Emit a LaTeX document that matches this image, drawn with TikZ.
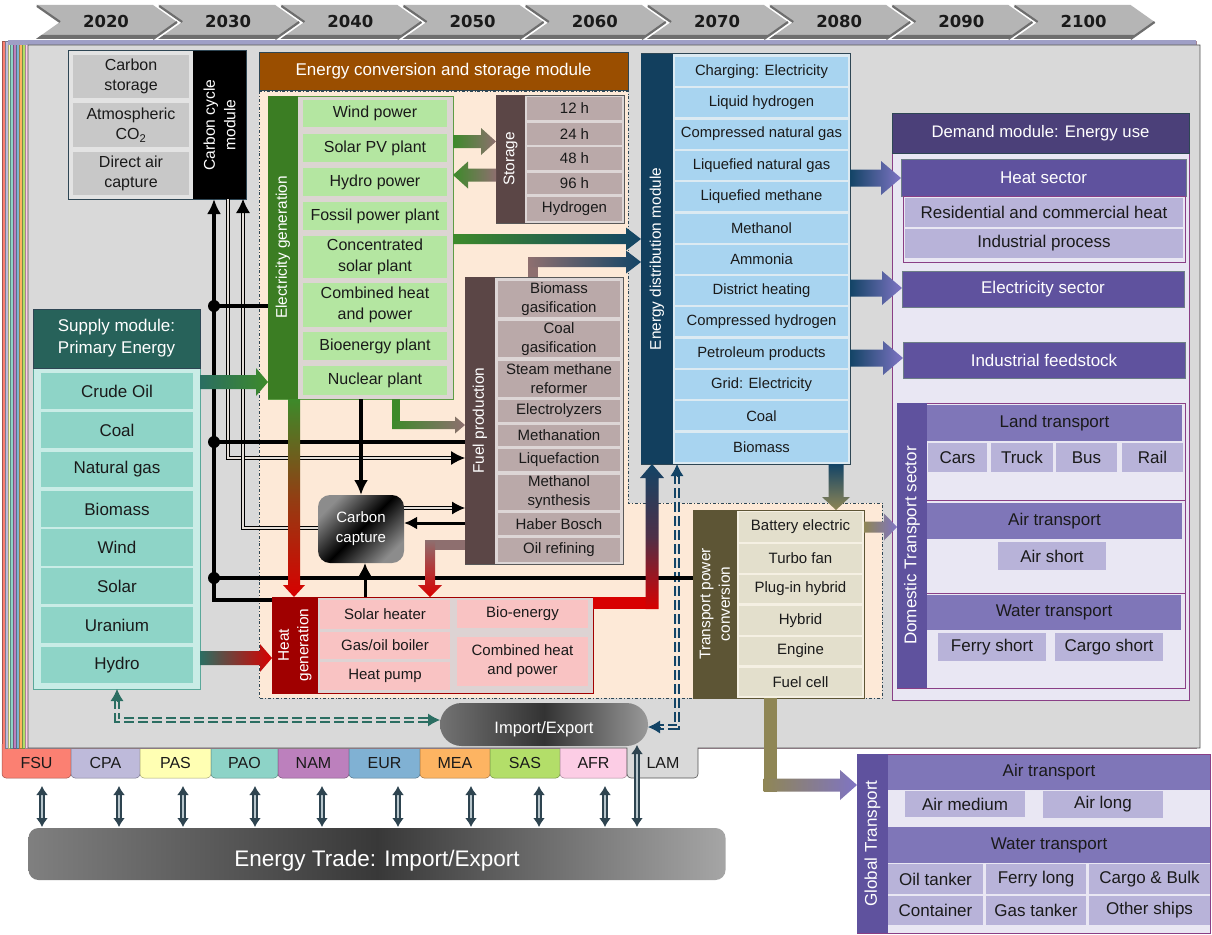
\documentclass[tikz,border=0pt]{standalone}
\usepackage{fontspec}
\setmainfont{Liberation Sans}
\newfontfamily\yearfont{DejaVu Sans}
\usetikzlibrary{arrows.meta,calc,shapes.misc}

% palette
\definecolor{txt}{HTML}{1A1A1A}
\definecolor{frame}{HTML}{2E4654}
\definecolor{panel}{HTML}{D9D9D9}
\definecolor{peach}{HTML}{FDE9D7}
\definecolor{chevfill}{HTML}{B5B5B5}
\definecolor{chevdark}{HTML}{6E6E6E}
\definecolor{brownhdr}{HTML}{9A4E00}
\definecolor{egbar}{HTML}{3B7D23}
\definecolor{egcell}{HTML}{B4E6A1}
\definecolor{egbg}{HTML}{DCD5D2}
\definecolor{egline}{HTML}{5E9C45}
\definecolor{stbar}{HTML}{5B4646}
\definecolor{stcell}{HTML}{BAA9A9}
\definecolor{stbg}{HTML}{DDD6D6}
\definecolor{hgbar}{HTML}{A00000}
\definecolor{hgcell}{HTML}{F9C3C3}
\definecolor{hgbg}{HTML}{DDD3D3}
\definecolor{edbar}{HTML}{123F5E}
\definecolor{edcell}{HTML}{A8D4F0}
\definecolor{edbg}{HTML}{DCEAF2}
\definecolor{tpbar}{HTML}{5D5535}
\definecolor{tpcell}{HTML}{E3DFCC}
\definecolor{tpbg}{HTML}{F5F0E3}
\definecolor{dmhdr}{HTML}{4B4079}
\definecolor{dmsec}{HTML}{5F529E}
\definecolor{dmsub}{HTML}{7F76B8}
\definecolor{dmcell}{HTML}{B8B3D9}
\definecolor{dmbg}{HTML}{E9E7F3}
\definecolor{dmline}{HTML}{8A3F86}
\definecolor{sphdr}{HTML}{27625A}
\definecolor{spcell}{HTML}{8ED4C7}
\definecolor{spbg}{HTML}{C9ECE6}
\definecolor{spline}{HTML}{5AA89A}
\definecolor{ccell}{HTML}{C8C8C8}
\definecolor{cbg}{HTML}{E3E3E3}
\definecolor{dblfill}{HTML}{E4DED8}
\definecolor{trdark}{HTML}{2E4450}
\definecolor{trlight}{HTML}{B8C6CC}
% flow colours
\definecolor{aTeal}{HTML}{2B6E62}
\definecolor{aGreen}{HTML}{3D8A2A}
\definecolor{aRed}{HTML}{D80000}
\definecolor{aBrown}{HTML}{8E6F6F}
\definecolor{aBlue}{HTML}{134466}
\definecolor{aOlive}{HTML}{8F8655}
\definecolor{aPurple}{HTML}{7F74C4}
% regions
\definecolor{rFSU}{HTML}{FB8072}
\definecolor{rCPA}{HTML}{BEBADA}
\definecolor{rPAS}{HTML}{FFFFB3}
\definecolor{rPAO}{HTML}{8DD3C7}
\definecolor{rNAM}{HTML}{BC80BD}
\definecolor{rEUR}{HTML}{80B1D3}
\definecolor{rMEA}{HTML}{FDB462}
\definecolor{rSAS}{HTML}{B3DE69}
\definecolor{rAFR}{HTML}{FCCDE5}
\definecolor{rLAM}{HTML}{D9D9D9}

% box from corner (x1,y1) to (x2,y2)
\newcommand\bx[7][]{\node[box,#1,minimum width={(#5)-(#3)},minimum height={(#6)-(#4)}] (#2) at ({((#3)+(#5))/2},{((#4)+(#6))/2}) {#7};}
% upright bar with text running bottom to top
\newcommand\vb[7][]{\node[box,#1,rotate=90,minimum width={(#6)-(#4)},minimum height={(#5)-(#3)}] (#2) at ({((#3)+(#5))/2},{((#4)+(#6))/2}) {#7};}
% shaded block arrows: shading, from, to, half shaft, half head, head length
\newcommand\harrow[6]{\shade[#1] let \p1=(#2), \p2=(#3), \n1={sign(\x2-\x1)} in
  ({\x1},{\y1+#4}) -- ({\x2-(\n1)*#6},{\y1+#4}) -- ({\x2-(\n1)*#6},{\y1+#5}) -- ({\x2},{\y1})
  -- ({\x2-(\n1)*#6},{\y1-#5}) -- ({\x2-(\n1)*#6},{\y1-#4}) -- ({\x1},{\y1-#4}) -- cycle;}
\newcommand\varrow[6]{\shade[#1] let \p1=(#2), \p2=(#3), \n1={sign(\y2-\y1)} in
  ({\x1+#4},{\y1}) -- ({\x1+#4},{\y2-(\n1)*#6}) -- ({\x1+#5},{\y2-(\n1)*#6}) -- ({\x1},{\y2})
  -- ({\x1-#5},{\y2-(\n1)*#6}) -- ({\x1-#4},{\y2-(\n1)*#6}) -- ({\x1-#4},{\y1}) -- cycle;}
% plain leg of an elbow arrow, extended past the bend
\newcommand\vseg[4]{\fill[#1] let \p1=(#2), \p2=(#3), \n1={sign(\y2-\y1)} in ({\x1-#4},{\y1}) rectangle ({\x1+#4},{\y2+(\n1)*#4});}
\newcommand\hseg[4]{\fill[#1] let \p1=(#2), \p2=(#3), \n1={sign(\x2-\x1)} in ({\x1},{\y1-#4}) rectangle ({\x2+(\n1)*#4},{\y1+#4});}

\begin{document}
\begin{tikzpicture}[x=1pt,y=-1pt,
  box/.style={inner sep=0pt,outer sep=0pt,align=center,text=txt},
  fA/.style={font=\fontsize{15}{19}\selectfont},
  fB/.style={font=\fontsize{16}{20.5}\selectfont},
  fC/.style={font=\fontsize{17}{21}\selectfont},
  fH/.style={font=\fontsize{17}{22}\selectfont,text=white},
  fbar/.style={font=\fontsize{15.4}{19.5}\selectfont,text=white},
  fpbar/.style={font=\fontsize{17}{20}\selectfont,text=white},
  yr/.style={font={\yearfont\bfseries\fontsize{16.5}{18}\selectfont},text=txt,inner sep=0pt},
  tablab/.style={box,font=\fontsize{16}{18}\selectfont},
  co2line/.style={line width=3.4pt,draw=black,line join=miter},
  co2tip/.style={-{Latex[length=15pt,width=14pt]}},
  dbl/.style={draw=black,line width=1pt,double=dblfill,double distance=2.6pt},
  dbltip/.style={-{Latex[length=14pt,width=14pt]}},
  tradearr/.style={draw=trdark,line width=1.7pt,double=trlight,double distance=2.2pt,
    {Latex[length=9pt,width=12pt]}-{Latex[length=9pt,width=12pt]}},
  gdash/.style={draw=aTeal,line width=1.4pt,double=panel,double distance=2.4pt,dash pattern=on 10pt off 4pt},
  bdash/.style={draw=aBlue,line width=1.4pt,double=dblfill,double distance=2.4pt,dash pattern=on 10pt off 4pt},
  pill/.style={rounded rectangle,inner sep=0pt,outer sep=0pt,text=white,
    left color=black!55,right color=black!40,middle color=black!80},
]
\useasboundingbox[fill=white] (0,0) rectangle (1212,934);

% ---------- time axis ----------
\foreach \yrv [count=\i from 0] in {2020,2030,...,2100}{
  \pgfmathsetmacro\xo{36+122.2*\i}
  \fill[chevfill] (\xo,5) -- (\xo+117,5) -- (\xo+141,22) -- (\xo+117,39) -- (\xo,39) -- (\xo+24,22) -- cycle;
  \fill[chevdark] (\xo,39) -- (\xo+5.6,35) -- (\xo+122.6,35) -- (\xo+117,39) -- cycle;
  \draw[chevdark,line width=2.2pt] (\xo+117,39) -- (\xo+141,22);
  \draw[chevdark,line width=2.2pt] (\xo+1,6) -- (\xo+24,22);
  \node[yr] (yr\i) at (\xo+70,21) {\yrv};
}

% ---------- stacked regional layers ----------
\foreach \c/\ta/\tb/\lab [count=\k from 0] in {rFSU/2/71/FSU,rCPA/71/140/CPA,rPAS/140/211/PAS,rPAO/211/278/PAO,rNAM/278/349/NAM,rEUR/349/420/EUR,rMEA/420/490/MEA,rSAS/490/560/SAS,rAFR/560/627/AFR}{
  \pgfmathsetmacro\sx{2+2.9*\k}
  \filldraw[fill=\c,draw=\c!65!black,line width=0.5pt] (\sx,41) rectangle (1196,748);
  \filldraw[fill=\c,draw=\c!65!black,line width=0.5pt,rounded corners=4pt] (\ta,744) -- (\ta,778) -- (\tb,778) -- (\tb,744);
  \node[tablab] (t\lab) at ({(\ta+\tb)/2},763) {\lab};
}
\fill[gray!75!blue!60] (8,40.5) rectangle (1196,45);
\filldraw[fill=rLAM,draw=gray!65!black,line width=0.6pt] (28,45) -- (1200,45) -- (1200,748) -- (698,748)
  [rounded corners=4pt] -- (698,778) -- (627,778) [sharp corners] -- (627,748) -- (28,748) -- cycle;
\node[tablab] (tLAM) at (663,763) {LAM};

% ---------- energy conversion area ----------
\filldraw[fill=peach,draw=frame,line width=0.8pt,dash dot] (259,91) -- (628,91) -- (628,503) -- (882,503) -- (882,698) -- (259,698) -- cycle;
\bx[fill=brownhdr,draw=frame,line width=0.8pt,fH]{echdr}{259}{52}{628}{90}{Energy conversion and storage module}

% carbon cycle module
\bx[fill=cbg,draw=frame,line width=1pt]{ccm}{68}{51}{246}{199}{}
\bx[fill=ccell,fB]{cst}{73}{55}{189}{98}{Carbon\\storage}
\bx[fill=ccell,fB]{cat}{73}{103}{189}{147}{Atmospheric\\CO\textsubscript{2}}
\bx[fill=ccell,fB]{cda}{73}{152}{189}{195}{Direct air\\capture}
\vb[fill=black,fbar,font=\fontsize{15.6}{20.5}\selectfont]{ccbar}{193}{51}{246}{199}{Carbon cycle\\module}

% electricity generation
\bx[fill=egbg,draw=egline,line width=1pt]{eg}{268}{96}{453}{399}{}
\vb[fill=egbar,fbar]{egb}{268}{96}{298}{399}{Electricity generation}
\bx[fill=egcell,fB]{eg1}{303}{100}{447}{127}{Wind power}
\bx[fill=egcell,fB]{eg2}{303}{134}{447}{162}{Solar PV plant}
\bx[fill=egcell,fB]{eg3}{303}{168}{447}{196}{Hydro power}
\bx[fill=egcell,fB]{eg4}{303}{202}{447}{230}{Fossil power plant}
\bx[fill=egcell,fB]{eg5}{303}{236}{447}{278}{Concentrated\\solar plant}
\bx[fill=egcell,fB]{eg6}{303}{283}{447}{327}{Combined heat\\and power}
\bx[fill=egcell,fB]{eg7}{303}{332}{447}{360}{Bioenergy plant}
\bx[fill=egcell,fB]{eg8}{303}{366}{447}{395}{Nuclear plant}

% storage
\bx[fill=stbg,draw=gray!70!black,line width=0.8pt]{st}{496}{95}{624}{223}{}
\vb[fill=stbar,fbar]{stb}{496}{95}{525}{223}{Storage}
\bx[fill=stcell,fA]{st1}{527}{97}{622}{120}{12 h}
\bx[fill=stcell,fA]{st2}{527}{123}{622}{145}{24 h}
\bx[fill=stcell,fA]{st3}{527}{147}{622}{170}{48 h}
\bx[fill=stcell,fA]{st4}{527}{173}{622}{194}{96 h}
\bx[fill=stcell,fA]{st5}{527}{197}{622}{221}{Hydrogen}

% fuel production
\bx[fill=stbg,draw=gray!70!black,line width=0.8pt]{fp}{465}{277}{623}{564}{}
\vb[fill=stbar,fbar]{fpb}{465}{277}{495}{564}{Fuel production}
\bx[fill=stcell,fA]{fp1}{498}{281}{620}{317}{Biomass\\gasification}
\bx[fill=stcell,fA]{fp2}{498}{321}{620}{357}{Coal\\gasification}
\bx[fill=stcell,fA]{fp3}{498}{361}{620}{397}{Steam methane\\reformer}
\bx[fill=stcell,fA]{fp4}{498}{400}{620}{422}{Electrolyzers}
\bx[fill=stcell,fA]{fp5}{498}{425}{620}{446}{Methanation}
\bx[fill=stcell,fA]{fp6}{498}{449}{620}{471}{Liquefaction}
\bx[fill=stcell,fA]{fp7}{498}{475}{620}{510}{Methanol\\synthesis}
\bx[fill=stcell,fA]{fp8}{498}{513}{620}{535}{Haber Bosch}
\bx[fill=stcell,fA]{fp9}{498}{538}{620}{562}{Oil refining}

% carbon capture
\node[box,rounded corners=12pt,minimum width=86pt,minimum height=68pt,text=white,
  font=\fontsize{15}{20}\selectfont,left color=black!45,right color=black!45,middle color=black,shading angle=45]
  (cc) at (361,529) {Carbon\\capture};

% heat generation
\bx[fill=hgbg,draw=aRed!75!black,line width=1pt]{hg}{272}{597}{593}{693}{}
\vb[fill=hgbar,fbar]{hgb}{272}{597}{318}{693}{Heat\\generation}
\bx[fill=hgcell,fA]{hg1}{320}{600}{450}{629}{Solar heater}
\bx[fill=hgcell,fA]{hg2}{320}{632}{450}{659}{Gas/oil boiler}
\bx[fill=hgcell,fA]{hg3}{320}{662}{450}{690}{Heat pump}
\bx[fill=hgcell,fA]{hg4}{457}{600}{588}{628}{Bio-energy}
\bx[fill=hgcell,fA]{hg5}{457}{637}{588}{686}{Combined heat\\and power}

% energy distribution
\bx[fill=edbg,draw=frame,line width=1pt]{ed}{641}{54}{850}{464}{}
\vb[fill=edbar,fbar]{edb}{641}{54}{673}{464}{Energy distribution module}
\foreach \t [count=\i from 0] in {Charging: Electricity,Liquid hydrogen,Compressed natural gas,Liquefied natural gas,Liquefied methane,Methanol,Ammonia,District heating,Compressed hydrogen,Petroleum products,Grid: Electricity,Coal,Biomass}{
  \pgfmathsetmacro\ya{57+31.3*\i}
  \bx[fill=edcell,font=\fontsize{14.8}{18}\selectfont]{ed\i}{675}{\ya}{848}{\ya+29}{\t}
}

% transport power conversion
\bx[fill=tpbg,draw=tpbar,line width=1pt]{tp}{693}{510}{864}{698}{}
\vb[fill=tpbar,fbar]{tpb}{693}{510}{737}{698}{Transport power\\conversion}
\bx[fill=tpcell,fA]{tp1}{739}{512}{862}{542}{Battery electric}
\bx[fill=tpcell,fA]{tp2}{739}{544}{862}{573}{Turbo fan}
\bx[fill=tpcell,fA]{tp3}{739}{575}{862}{603}{Plug-in hybrid}
\bx[fill=tpcell,fA]{tp4}{739}{606}{862}{635}{Hybrid}
\bx[fill=tpcell,fA]{tp5}{739}{637}{862}{665}{Engine}
\bx[fill=tpcell,fA]{tp6}{739}{668}{862}{696}{Fuel cell}

% ---------- supply module ----------
\bx[fill=spbg,draw=spline,line width=1pt]{sp}{33}{368}{200}{689}{}
\bx[fill=sphdr,draw=frame,line width=0.8pt,fH]{sphdr}{33}{309}{200}{368}{Supply module:\\Primary Energy}
\bx[fill=spcell,fC]{sp1}{41}{373}{193}{409}{Crude Oil}
\bx[fill=spcell,fC]{sp2}{41}{412}{193}{448}{Coal}
\bx[fill=spcell,fC]{sp3}{41}{452}{193}{487}{Natural gas}
\bx[fill=spcell,fC]{sp4}{41}{491}{193}{527}{Biomass}
\bx[fill=spcell,fC]{sp5}{41}{529}{193}{566}{Wind}
\bx[fill=spcell,fC]{sp6}{41}{568}{193}{604}{Solar}
\bx[fill=spcell,fC]{sp7}{41}{607}{193}{643}{Uranium}
\bx[fill=spcell,fC]{sp8}{41}{647}{193}{683}{Hydro}

% ---------- demand module ----------
\bx[fill=dmbg,draw=dmline,line width=0.8pt]{dm}{892}{113}{1189}{700}{}
\bx[fill=dmhdr,draw=frame,line width=0.8pt,font=\fontsize{16.7}{20}\selectfont,text=white]{dmh}{892}{113}{1189}{153}{Demand module: Energy use}
\bx[fill=dmsec,draw=frame!70,line width=0.6pt,fC,text=white]{heat}{901}{159}{1186}{196}{Heat sector}
\bx[fill=dmbg,draw=dmline,line width=0.8pt]{heatsub}{903}{196}{1185}{262}{}
\bx[fill=dmcell,fC]{res}{905}{198}{1183}{227}{Residential and commercial heat}
\bx[fill=dmcell,fC]{ind}{905}{229}{1183}{258}{Industrial process}
\bx[fill=dmsec,draw=frame!70,line width=0.6pt,fC,text=white]{elsec}{902}{271}{1184}{307}{Electricity sector}
\bx[fill=dmsec,draw=frame!70,line width=0.6pt,fC,text=white]{feed}{903}{342}{1185}{378}{Industrial feedstock}

% domestic transport
\bx[fill=dmbg,draw=dmline,line width=0.8pt]{dt}{897}{403}{1185}{688}{}
\vb[fill=dmsec,fpbar]{dtb}{897}{403}{927}{688}{Domestic Transport sector}
\bx[fill=dmsub,fC]{land}{927}{405}{1182}{441}{Land transport}
\bx[fill=dmcell,fC]{cars}{928}{443}{987}{472}{Cars}
\bx[fill=dmcell,fC]{truck}{991}{443}{1053}{472}{Truck}
\bx[fill=dmcell,fC]{bus}{1056}{443}{1117}{472}{Bus}
\bx[fill=dmcell,fC]{rail}{1122}{443}{1183}{472}{Rail}
\draw[dmline,line width=0.8pt] (dtb.south |- 0,500) -- (dt.east |- 0,500);
\bx[fill=dmsub,fC]{dair}{927}{503}{1182}{539}{Air transport}
\bx[fill=dmcell,fC]{airs}{998}{542}{1106}{570}{Air short}
\draw[dmline,line width=0.8pt] (dtb.south |- 0,593) -- (dt.east |- 0,593);
\bx[fill=dmsub,fC]{dwat}{927}{595}{1181}{630}{Water transport}
\bx[fill=dmcell,fC]{ferrys}{938}{633}{1046}{661}{Ferry short}
\bx[fill=dmcell,fC]{cargos}{1055}{633}{1163}{661}{Cargo short}

% global transport
\bx[fill=dmbg,draw=dmline,line width=0.8pt]{gt}{857}{754}{1210}{933}{}
\vb[fill=dmsec,fpbar]{gtb}{857}{754}{888}{933}{Global Transport}
\bx[fill=dmsub,fC]{gair}{888}{755}{1210}{790}{Air transport}
\bx[fill=dmcell,fC]{airm}{905}{791}{1025}{817}{Air medium}
\bx[fill=dmcell,fC]{airl}{1043}{791}{1163}{818}{Air long}
\bx[fill=dmsub,fC]{gwat}{888}{827}{1210}{863}{Water transport}
\bx[fill=dmcell,fC]{oilt}{888}{864}{983}{894}{Oil tanker}
\bx[fill=dmcell,fC]{ferryl}{986}{864}{1086}{894}{Ferry long}
\bx[fill=dmcell,fC]{cargob}{1089}{864}{1210}{894}{Cargo \& Bulk}
\bx[fill=dmcell,fC]{cont}{888}{896}{983}{925}{Container}
\bx[fill=dmcell,fC]{gast}{986}{896}{1086}{925}{Gas tanker}
\bx[fill=dmcell,fC]{other}{1089}{896}{1210}{925}{Other ships}

% ---------- trade ----------
\node[pill,minimum width=208pt,minimum height=43pt] (ie) at (544,724.5) {};
\node[box,text=white,font=\fontsize{16.5}{19}\selectfont] (ietxt) at ([yshift=-5pt]ie.center) {Import/Export};
\node[box,rounded corners=10pt,minimum width=697pt,minimum height=52pt,
  left color=black!50,right color=black!35,middle color=black!78] (trade) at (377,854) {};
\node[box,text=white,font=\fontsize{22.5}{25}\selectfont] (tradetxt) at ([yshift=-7pt]trade.center) {Energy Trade: Import/Export};
\foreach \xx [count=\i] in {42,119,183,255,322,398,471,539,605}{
  \coordinate (ta\i) at (\xx,786);
  \draw[tradearr,shorten >=1pt] (ta\i) -- (trade.north -| ta\i);
}
\coordinate (tlam) at (637,745);
\draw[tradearr,shorten >=1pt] (tlam) -- (trade.north -| tlam);

% dashed exchange links
\coordinate (gk) at (117,720);
\coordinate (gk1) at (sp.south -| gk);
\coordinate (gk2) at (ie.west |- gk);
\draw[gdash,shorten <=10pt,shorten >=10pt] (gk1) -- (gk) -- (gk2);
\draw[aTeal,line width=1pt,-{Latex[length=12pt,width=13pt]}] ([yshift=-12pt]gk1) -- (gk1);
\draw[aTeal,line width=1pt,-{Latex[length=12pt,width=13pt]}] ([xshift=-12pt]gk2) -- (gk2);
\coordinate (bk) at (677,727);
\coordinate (bk1) at (ed.south -| bk);
\coordinate (bk2) at (ie.east |- bk);
\draw[bdash,shorten <=10pt,shorten >=10pt] (bk1) -- (bk) -- (bk2);
\draw[aBlue,line width=1pt,-{Latex[length=12pt,width=13pt]}] ([yshift=-12pt]bk1) -- (bk1);
\draw[aBlue,line width=1pt,-{Latex[length=12pt,width=13pt]}] ([xshift=12pt]bk2) -- (bk2);

% ---------- CO2 network ----------
\coordinate (j1) at (214,306);
\coordinate (j2) at (214,442);
\coordinate (j3) at (214,578);
\coordinate (kb) at (214,600);
\coordinate (d1) at (228,458);
\coordinate (d2) at (243,528);
\draw[dbl,dbltip] (ccm.south -| d1) -- (d1) -- (fp.west |- d1);
\draw[dbl,dbltip] (cc.west |- d2) -- (d2) -- (ccm.south -| d2);
\draw[co2line,co2tip] (hg.west |- kb) -- (kb) -- (ccm.south -| kb);
\draw[co2line] (j1) -- (eg.west |- j1);
\draw[co2line] (j2) -- (fp.west |- j2);
\draw[co2line] (j3) -- (tp.west |- j3);
\foreach \j in {j1,j2,j3} \fill (\j) circle (6pt);
\coordinate (ccr1) at ([yshift=21pt]cc.east);
\coordinate (ccr2) at ([yshift=6pt]cc.east);
\draw[dbl,-{Latex[length=13pt,width=13pt]}] (ccr1) -- (fp.west |- ccr1);
\draw[co2line,line width=3pt,-{Latex[length=13pt,width=13pt]}] (fp.west |- ccr2) -- (ccr2);
\draw[co2line,co2tip] (eg.south -| cc.north) -- (cc.north);
\coordinate (ccb) at ([xshift=4pt]cc.south);
\draw[co2line,line width=3pt,-{Latex[length=13pt,width=13pt]}] (hg.north -| ccb) -- (ccb);

% ---------- energy flows ----------
\coordinate (a1) at (200,382);
\harrow{left color=aTeal,right color=aGreen}{a1}{eg.west |- a1}{7pt}{14pt}{12pt}
\coordinate (a2) at (200,658);
\harrow{left color=aTeal,right color=aRed}{a2}{hg.west |- a2}{7pt}{14pt}{12pt}
\coordinate (a3) at (453,141.5);
\harrow{left color=aGreen,right color=aBrown}{a3}{st.west |- a3}{6.5pt}{13.5pt}{15pt}
\coordinate (a4) at (496,175);
\harrow{left color=aGreen,right color=aBrown}{a4}{eg.east |- a4}{6.5pt}{13.5pt}{15pt}
\coordinate (a5) at (453,239);
\harrow{left color=aGreen,right color=aBlue}{a5}{ed.west |- a5}{5pt}{11.5pt}{15pt}
% fuel production to distribution
\coordinate (c6) at (533,262);
\vseg{aBrown}{fp.north -| c6}{c6}{5pt}
\harrow{left color=aBrown,right color=aBlue}{[xshift=-5pt]c6}{ed.west |- c6}{5pt}{11.5pt}{15pt}
% electricity to fuel production
\coordinate (c7) at (396,425);
\vseg{aGreen}{eg.south -| c7}{c7}{4pt}
\harrow{left color=aGreen,right color=aBrown}{[xshift=-4pt]c7}{fp.west |- c7}{4pt}{8.5pt}{10pt}
% electricity to heat
\coordinate (c8) at (294,399);
\varrow{top color=aGreen,bottom color=aRed,middle color=aGreen!45!aRed}{c8}{hg.north -| c8}{6pt}{11pt}{12pt}
% fuel production to heat
\coordinate (c9) at (430,545);
\hseg{aBrown}{fp.west |- c9}{c9}{5pt}
\varrow{top color=aBrown,bottom color=aRed}{[yshift=5pt]c9}{hg.north -| c9}{5pt}{12pt}{12pt}
% heat to distribution
\coordinate (c10) at (652,603);
\hseg{aRed}{hg.east |- c10}{c10}{6pt}
\varrow{top color=aBlue,bottom color=aRed,middle color=aBlue!70!aRed}{[yshift=-6pt]c10}{ed.south -| c10}{6.5pt}{12pt}{14pt}
% distribution to transport conversion
\coordinate (c11) at (836,464);
\varrow{top color=aBlue,bottom color=aOlive}{c11}{tp.north -| c11}{7.5pt}{14pt}{13pt}
% transport conversion to domestic and global transport
\coordinate (c12) at (864,527);
\harrow{left color=aOlive,right color=aPurple}{c12}{dt.west |- c12}{5.5pt}{13.5pt}{13pt}
\coordinate (c13) at (770,785);
\vseg{aOlive}{tp.south -| c13}{c13}{6.5pt}
\harrow{left color=aOlive,right color=aPurple}{[xshift=-6.5pt]c13}{gt.west |- c13}{6.5pt}{15pt}{17pt}
% distribution to demand sectors
\coordinate (c14) at (850,178);
\harrow{left color=aBlue,right color=aPurple}{c14}{heat.west |- c14}{8.5pt}{17pt}{20pt}
\coordinate (c15) at (850,288);
\harrow{left color=aBlue,right color=aPurple}{c15}{elsec.west |- c15}{8.5pt}{17pt}{20pt}
\coordinate (c16) at (850,358);
\harrow{left color=aBlue,right color=aPurple}{c16}{feed.west |- c16}{8.5pt}{17pt}{20pt}
\end{tikzpicture}
\end{document}
